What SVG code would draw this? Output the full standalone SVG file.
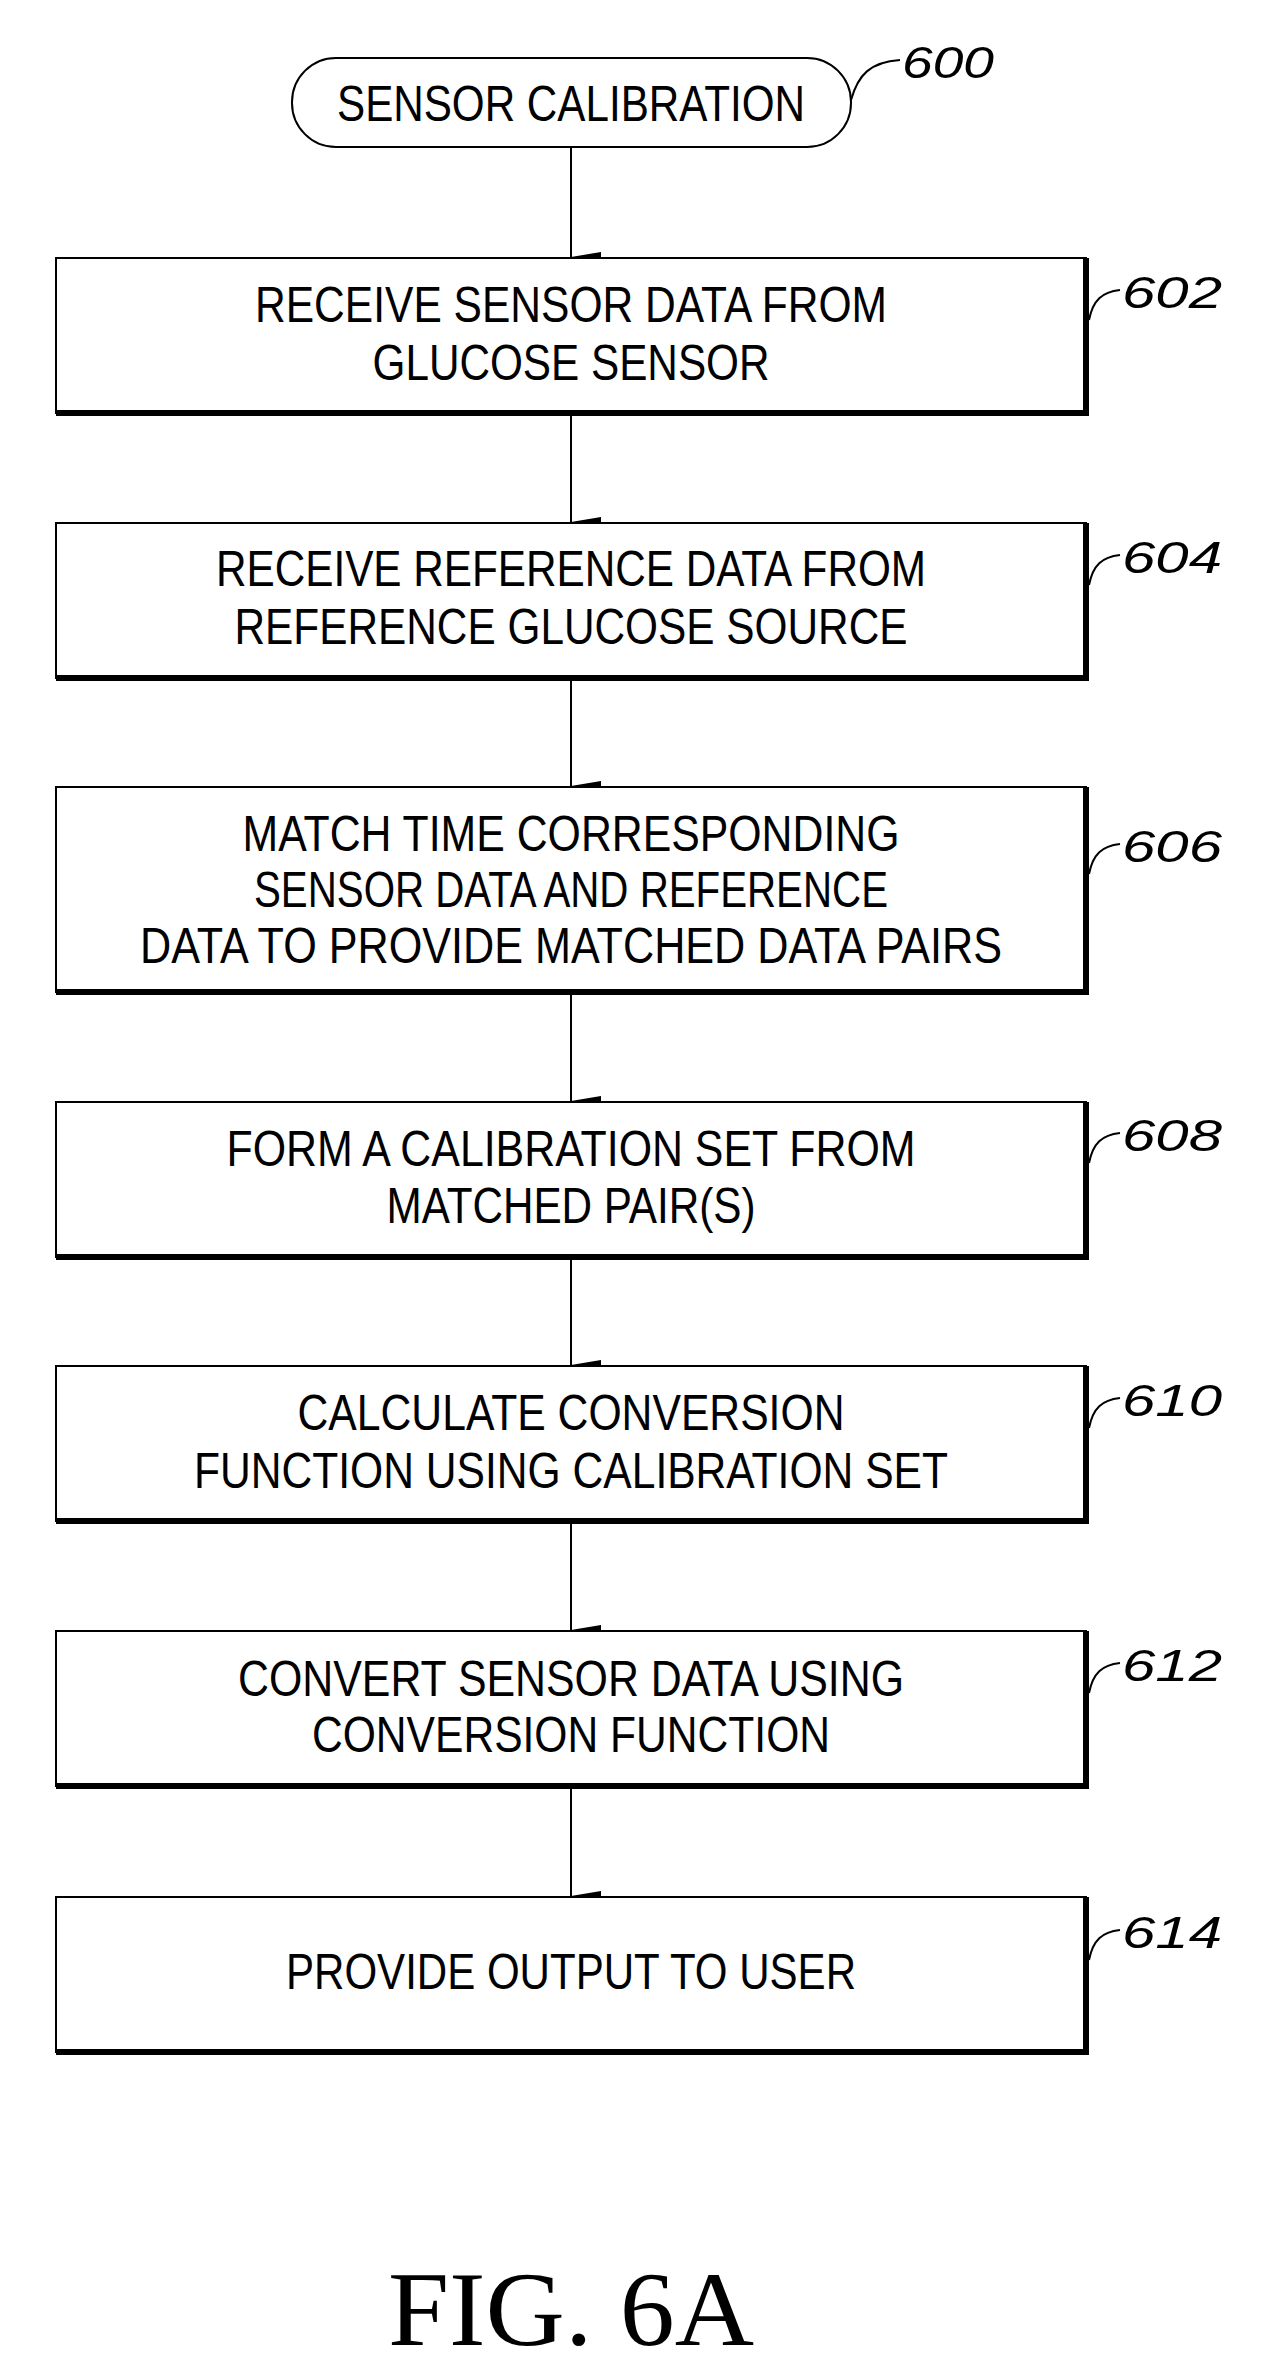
<svg xmlns="http://www.w3.org/2000/svg" width="1261" height="2368" viewBox="0 0 1261 2368">
<style>
.b{fill:#fff;stroke:#000;stroke-width:2}
.sh{fill:none;stroke:#000;stroke-width:6}
.t{font-family:"Liberation Sans",Arial,sans-serif;font-size:50px;text-anchor:middle;fill:#000}
.r{font-family:"Liberation Sans",Arial,sans-serif;font-size:44px;font-style:italic;fill:#000}
.l{fill:none;stroke:#000;stroke-width:2}
</style>
<defs><marker id="a" markerWidth="10" markerHeight="30" refX="5" refY="30" orient="auto" markerUnits="userSpaceOnUse" viewBox="0 0 10 30"><path d="M0,0 L5,30 L10,0 Z" fill="#000"/></marker></defs>
<rect width="1261" height="2368" fill="#fff"/>
<g id="connectors">
<line class="l" x1="571" y1="147" x2="571" y2="257" marker-end="url(#a)"/>
<line class="l" x1="571" y1="414" x2="571" y2="522" marker-end="url(#a)"/>
<line class="l" x1="571" y1="679" x2="571" y2="786" marker-end="url(#a)"/>
<line class="l" x1="571" y1="993" x2="571" y2="1101" marker-end="url(#a)"/>
<line class="l" x1="571" y1="1258" x2="571" y2="1365" marker-end="url(#a)"/>
<line class="l" x1="571" y1="1522" x2="571" y2="1630" marker-end="url(#a)"/>
<line class="l" x1="571" y1="1787" x2="571" y2="1896" marker-end="url(#a)"/>
</g>
<g id="n600">
<rect class="b" x="292" y="58" width="559" height="89" rx="44" stroke-width="3"/>
<text class="t" x="571" y="121" textLength="468" lengthAdjust="spacingAndGlyphs">SENSOR CALIBRATION</text>
<path class="l" d="M851,100 C858,75 870,62 900,60"/>
<text class="r" x="902" y="78" textLength="92" lengthAdjust="spacingAndGlyphs">600</text>
</g>
<g id="n602">
<rect class="b" x="56" y="258" width="1030" height="155"/>
<path class="sh" d="M1086,258 V413 H56"/>
<text class="t" x="571" y="322" textLength="632" lengthAdjust="spacingAndGlyphs">RECEIVE SENSOR DATA FROM</text>
<text class="t" x="571" y="380" textLength="397" lengthAdjust="spacingAndGlyphs">GLUCOSE SENSOR</text>
<path class="l" d="M1089,320 C1093,300 1102,292 1120,290"/>
<text class="r" x="1122" y="308" textLength="100" lengthAdjust="spacingAndGlyphs">602</text>
</g>
<g id="n604">
<rect class="b" x="56" y="523" width="1030" height="155"/>
<path class="sh" d="M1086,523 V678 H56"/>
<text class="t" x="571" y="586" textLength="710" lengthAdjust="spacingAndGlyphs">RECEIVE REFERENCE DATA FROM</text>
<text class="t" x="571" y="644" textLength="673" lengthAdjust="spacingAndGlyphs">REFERENCE GLUCOSE SOURCE</text>
<path class="l" d="M1089,585 C1093,565 1102,557 1120,555"/>
<text class="r" x="1122" y="573" textLength="100" lengthAdjust="spacingAndGlyphs">604</text>
</g>
<g id="n606">
<rect class="b" x="56" y="787" width="1030" height="205"/>
<path class="sh" d="M1086,787 V992 H56"/>
<text class="t" x="571" y="851" textLength="657" lengthAdjust="spacingAndGlyphs">MATCH TIME CORRESPONDING</text>
<text class="t" x="571" y="907" textLength="634" lengthAdjust="spacingAndGlyphs">SENSOR DATA AND REFERENCE</text>
<text class="t" x="571" y="963" textLength="862" lengthAdjust="spacingAndGlyphs">DATA TO PROVIDE MATCHED DATA PAIRS</text>
<path class="l" d="M1089,874 C1093,854 1102,846 1120,844"/>
<text class="r" x="1122" y="862" textLength="100" lengthAdjust="spacingAndGlyphs">606</text>
</g>
<g id="n608">
<rect class="b" x="56" y="1102" width="1030" height="155"/>
<path class="sh" d="M1086,1102 V1257 H56"/>
<text class="t" x="571" y="1166" textLength="689" lengthAdjust="spacingAndGlyphs">FORM A CALIBRATION SET FROM</text>
<text class="t" x="571" y="1223" textLength="369" lengthAdjust="spacingAndGlyphs">MATCHED PAIR(S)</text>
<path class="l" d="M1089,1163 C1093,1143 1102,1135 1120,1133"/>
<text class="r" x="1122" y="1151" textLength="100" lengthAdjust="spacingAndGlyphs">608</text>
</g>
<g id="n610">
<rect class="b" x="56" y="1366" width="1030" height="155"/>
<path class="sh" d="M1086,1366 V1521 H56"/>
<text class="t" x="571" y="1430" textLength="547" lengthAdjust="spacingAndGlyphs">CALCULATE CONVERSION</text>
<text class="t" x="571" y="1488" textLength="754" lengthAdjust="spacingAndGlyphs">FUNCTION USING CALIBRATION SET</text>
<path class="l" d="M1089,1428 C1093,1408 1102,1400 1120,1398"/>
<text class="r" x="1122" y="1416" textLength="100" lengthAdjust="spacingAndGlyphs">610</text>
</g>
<g id="n612">
<rect class="b" x="56" y="1631" width="1030" height="155"/>
<path class="sh" d="M1086,1631 V1786 H56"/>
<text class="t" x="571" y="1696" textLength="666" lengthAdjust="spacingAndGlyphs">CONVERT SENSOR DATA USING</text>
<text class="t" x="571" y="1752" textLength="518" lengthAdjust="spacingAndGlyphs">CONVERSION FUNCTION</text>
<path class="l" d="M1089,1693 C1093,1673 1102,1665 1120,1663"/>
<text class="r" x="1122" y="1681" textLength="100" lengthAdjust="spacingAndGlyphs">612</text>
</g>
<g id="n614">
<rect class="b" x="56" y="1897" width="1030" height="155"/>
<path class="sh" d="M1086,1897 V2052 H56"/>
<text class="t" x="571" y="1989" textLength="570" lengthAdjust="spacingAndGlyphs">PROVIDE OUTPUT TO USER</text>
<path class="l" d="M1089,1960 C1093,1940 1102,1932 1120,1930"/>
<text class="r" x="1122" y="1948" textLength="100" lengthAdjust="spacingAndGlyphs">614</text>
</g>
<text x="571" y="2345" font-family="Liberation Serif,Times New Roman,serif" font-size="106" text-anchor="middle" textLength="366" lengthAdjust="spacingAndGlyphs">FIG. 6A</text>
</svg>
